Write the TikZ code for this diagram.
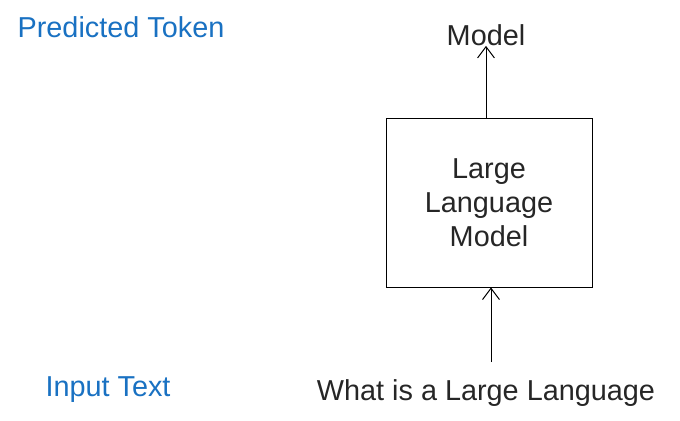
\documentclass[tikz,border=0pt]{standalone}
\usepackage{fontspec}
\setmainfont{Liberation Sans}
\usetikzlibrary{positioning,arrows.meta}
\definecolor{labelblue}{RGB}{25,113,194}
\tikzset{
  txt/.style={font=\fontsize{20.5}{23}\selectfont, text=black!85, inner sep=0},
  bluetxt/.style={txt, text=labelblue},
  arr/.style={-{Straight Barb[length=8pt,width=12pt]}, line width=0.7pt},
}
\begin{document}
\begin{tikzpicture}[x=0.025cm,y=-0.025cm]
\useasboundingbox (0,0) rectangle (680,421);

\node[bluetxt] (pred) at (121,27) {Predicted Token};
\node[bluetxt] (input) at (108,390) {Input Text};
\node[draw, line width=0.7pt, minimum width=206*0.025cm, minimum height=169*0.025cm, align=center, txt, text=black!85] (llm) at (489,202.5) {Large\\[1pt]Language\\[1pt]Model};
\node[txt] (out) at (486,35) {Model};
\node[txt] (in) at (486,393) {What is a Large Language};
\coordinate (inTop) at (491,362);

\draw[arr] (llm.north -| out) -- (out.south);
\draw[arr] (inTop) -- (llm.south -| inTop);

\end{tikzpicture}
\end{document}
